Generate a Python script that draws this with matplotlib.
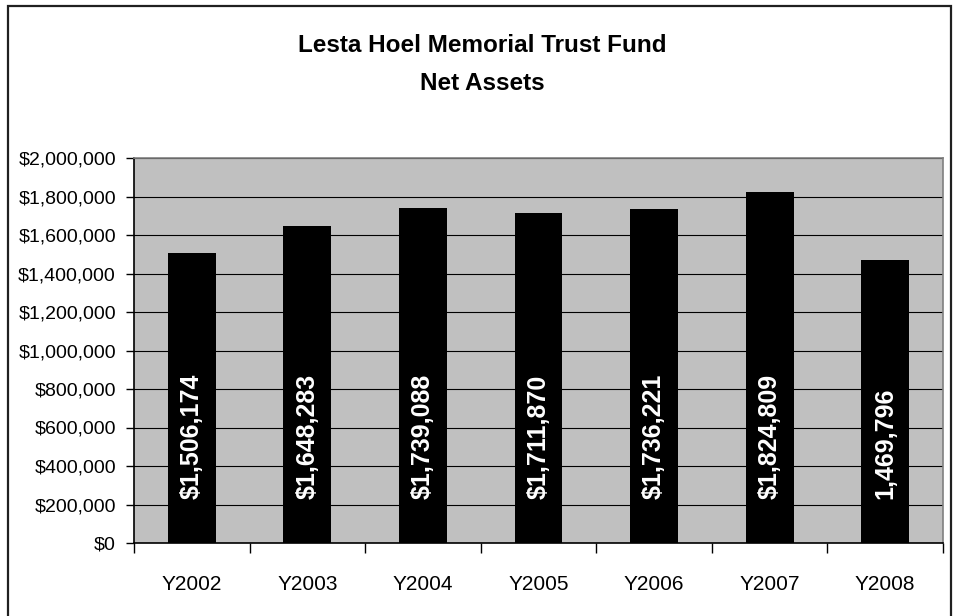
import matplotlib
matplotlib.use("Agg")
import matplotlib.pyplot as plt
from matplotlib.patches import Rectangle
from matplotlib.ticker import FuncFormatter
import numpy as np

# ---- data ----
years = ["Y2002", "Y2003", "Y2004", "Y2005", "Y2006", "Y2007", "Y2008"]
net_assets = [1506174, 1648283, 1739088, 1711870, 1736221, 1824809, 1469796]
bar_labels = ["$1,506,174", "$1,648,283", "$1,739,088", "$1,711,870",
              "$1,736,221", "$1,824,809", "1,469,796"]
title_lines = ["Lesta Hoel Memorial Trust Fund", "Net Assets"]

plt.rcParams["font.family"] = ["Liberation Sans", "DejaVu Sans"]

fig = plt.figure(figsize=(9.55, 6.16), dpi=100)
W, H = 955, 616

# outer chart frame (bottom runs off the image)
fig.patches.append(Rectangle((8 / W, -0.05), (951 - 8) / W, (616 - 6) / H + 0.05,
                             transform=fig.transFigure, fill=False,
                             edgecolor="#202020", linewidth=1.6))

ax = fig.add_axes([134 / W, (616 - 543) / H, (943 - 134) / W, (543 - 158) / H])
ax.set_facecolor("#c0c0c0")

x = np.arange(len(years))
ax.bar(x, net_assets, width=0.415, color="black", zorder=3)

for xi, lab in zip(x, bar_labels):
    ax.annotate(lab, (xi, 0), xytext=(0, 31.5), textcoords="offset points",
                rotation=90, ha="center", va="bottom", color="white",
                fontsize=18, fontweight="bold", zorder=4)

ax.set_xlim(-0.5, len(years) - 0.5)
ax.set_ylim(0, 2000000)
ax.set_yticks(np.arange(0, 2000001, 200000))
ax.yaxis.set_major_formatter(FuncFormatter(lambda v, p: f"${v:,.0f}"))
ax.yaxis.grid(True, color="black", linewidth=0.8, zorder=1)
ax.set_axisbelow(True)

# categories labelled at centres, tick marks at boundaries
ax.set_xticks(x)
ax.set_xticklabels(years)
ax.set_xticks(np.arange(-0.5, len(years)), minor=True)
ax.tick_params(axis="x", which="major", length=0, pad=23, labelsize=15)
ax.tick_params(axis="x", which="minor", length=7, width=1, direction="out", color="black")
ax.tick_params(axis="y", length=6, width=1, pad=7, labelsize=14)

ax.spines["left"].set_color("black")
ax.spines["bottom"].set_color("black")
ax.spines["top"].set_color("#808080")
ax.spines["right"].set_color("#808080")
for s in ax.spines.values():
    s.set_linewidth(1.2)

fig.text(482 / W, 1 - 45 / H, title_lines[0], ha="center", va="center",
         fontsize=17.5, fontweight="bold")
fig.text(482 / W, 1 - 84 / H, title_lines[1], ha="center", va="center",
         fontsize=17.5, fontweight="bold")

fig.savefig("out.png", dpi=100)
